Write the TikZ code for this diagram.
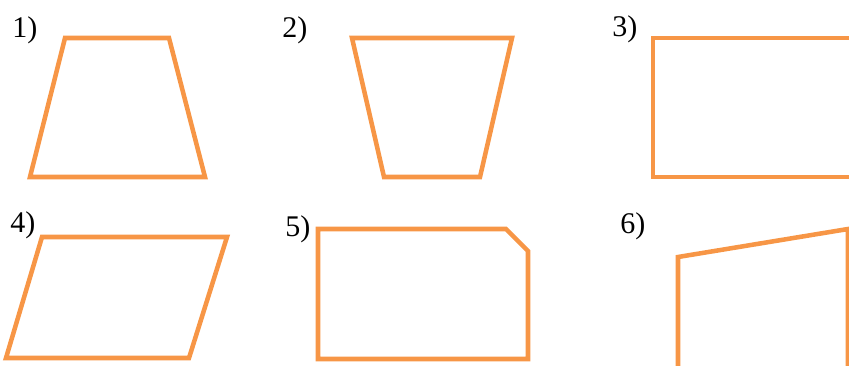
\documentclass[tikz,border=0pt]{standalone}
\usepackage{fontspec}
\setmainfont{Liberation Serif}
\usepackage{xcolor}
\definecolor{figorange}{HTML}{F79646}
\tikzset{
  figline/.style={draw=figorange, line width=3.4pt},
  figlabel/.style={anchor=base west, inner sep=0pt, font=\fontsize{22.5}{27}\selectfont}
}

\begin{document}
\begin{tikzpicture}[x=0.75pt, y=-0.75pt]
  \useasboundingbox (0,0) rectangle (849,365);
  \clip (0,0) rectangle (849,365);
  % upper row
  \node[figlabel] (lbl1) at (12,37) {1)};
  \node[figlabel] (lbl2) at (282,37) {2)};
  \node[figlabel] (lbl3) at (612,36) {3)};
  \draw[figline] (65,38) -- (169,38) -- (205,177) -- (30,177) -- cycle;
  \draw[figline] (352,38) -- (512,38) -- (480,177) -- (384,177) -- cycle;
  \draw[figline] (653,38) rectangle (900,177);
  % lower row
  \node[figlabel] (lbl4) at (10,232) {4)};
  \node[figlabel] (lbl5) at (285,236) {5)};
  \node[figlabel] (lbl6) at (620,233) {6)};
  \draw[figline] (42,237) -- (227,237) -- (189,358) -- (6,358) -- cycle;
  \draw[figline] (318,229) -- (506,229) -- (528,251) -- (528,359) -- (318,359) -- cycle;
  \draw[figline] (678,420) -- (678,257) -- (848,229) -- (848,420);
\end{tikzpicture}
\end{document}
